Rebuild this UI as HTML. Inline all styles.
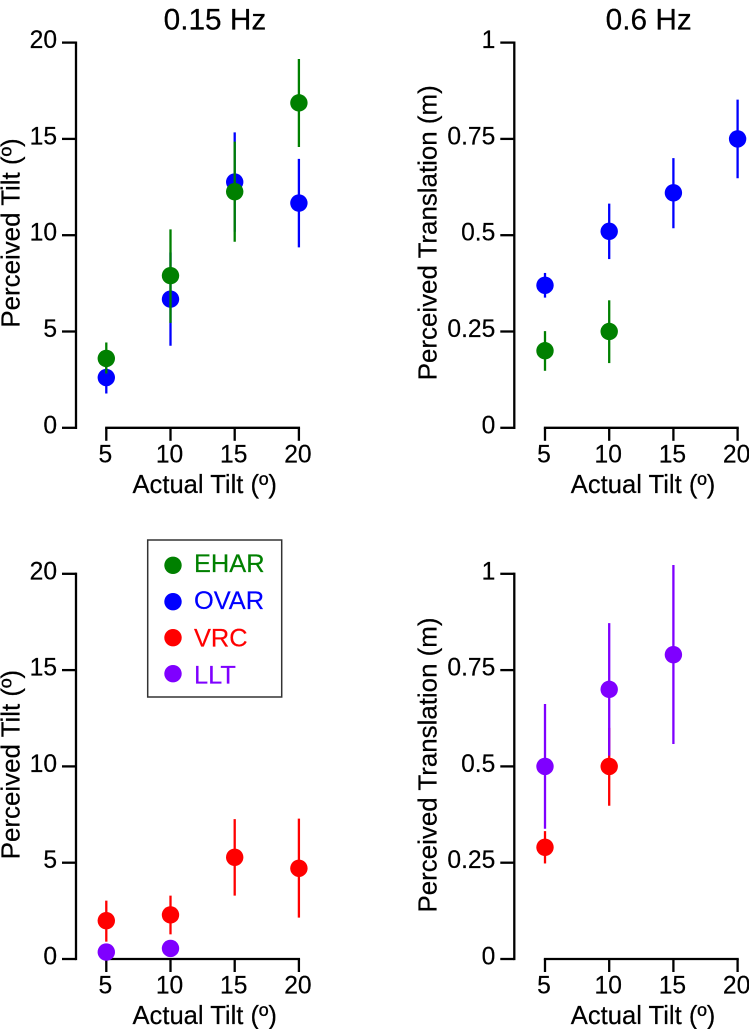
<!DOCTYPE html>
<html lang="en">
<head>
<meta charset="utf-8">
<title>Perceived tilt and translation</title>
<style>
html,body{margin:0;padding:0;background:#fff;width:749px;height:1029px;overflow:hidden}
svg{display:block}
text{font-family:"Liberation Sans",Arial,sans-serif;fill:#000;stroke:#000;stroke-width:.2px}
</style>
</head>
<body>
<svg id="chart" xmlns="http://www.w3.org/2000/svg" width="749" height="1029" viewBox="0 0 749 1029">
  <rect x="0" y="0" width="749" height="1029" fill="#fff"/>
  <text x="215" y="29.5" font-size="29.8" text-anchor="middle">0.15 Hz</text>
  <text x="648.7" y="29.5" font-size="29.8" text-anchor="middle">0.6 Hz</text>
  <g id="panels"></g>
  <g>
    <rect x="147.7" y="540" width="134" height="157" fill="#fff" stroke="#333" stroke-width="1.5"/>
    <circle cx="173" cy="565.3" r="8.7" fill="#008000"/>
    <text x="194" y="572" font-size="25.4" style="fill:#008000;stroke:#008000">EHAR</text>
    <circle cx="173" cy="601.7" r="8.7" fill="#0000ff"/>
    <text x="194" y="609" font-size="25.4" style="fill:#0000ff;stroke:#0000ff">OVAR</text>
    <circle cx="173" cy="637.7" r="8.7" fill="#ff0000"/>
    <text x="194" y="646.3" font-size="25.4" style="fill:#ff0000;stroke:#ff0000">VRC</text>
    <circle cx="173" cy="673.7" r="8.7" fill="#7f00ff"/>
    <text x="194" y="683.7" font-size="25.4" style="fill:#7f00ff;stroke:#7f00ff">LLT</text>
  </g>
</svg>
<script>
// Shared categories and tick labels
const actualTilt = [5, 10, 15, 20];
const tiltTicks = [0, 5, 10, 15, 20];
const translationTicks = [0, 0.25, 0.5, 0.75, 1];
const translationTickLabels = ['0', '0.25', '0.5', '0.75', '1'];

// Panel A: perceived tilt at 0.15 Hz
const ovarTiltValues = [2.61, 6.68, 12.76, 11.67];
const ovarTiltUpper = [3.44, 9.1, 15.34, 13.96];
const ovarTiltLower = [1.78, 4.26, 10.18, 9.37];
const eharTiltValues = [3.6, 7.9, 12.26, 16.87];
const eharTiltUpper = [4.43, 10.3, 14.86, 19.15];
const eharTiltLower = [2.82, 5.45, 9.66, 14.58];

// Panel B: perceived translation at 0.6 Hz
const ovarTransValues = [0.37, 0.51, 0.61, 0.75];
const ovarTransUpper = [0.402, 0.582, 0.70, 0.852];
const ovarTransLower = [0.338, 0.438, 0.518, 0.648];
const eharTransValues = [0.2, 0.25];
const eharTransUpper = [0.251, 0.331];
const eharTransLower = [0.148, 0.168];

// Panel C: perceived tilt, VRC and LLT
const lltTiltValues = [0.36, 0.55];
const lltTiltUpper = [0.36, 0.55];
const lltTiltLower = [0.36, 0.55];
const vrcTiltValues = [1.99, 2.29, 5.28, 4.71];
const vrcTiltUpper = [3.03, 3.29, 7.26, 7.29];
const vrcTiltLower = [0.9, 1.28, 3.29, 2.15];

// Panel D: perceived translation, VRC and LLT
const lltTransValues = [0.5, 0.7, 0.79];
const lltTransUpper = [0.662, 0.872, 1.023];
const lltTransLower = [0.338, 0.528, 0.558];
const vrcTransValues = [0.29, 0.5];
const vrcTransUpper = [0.332, 0.6];
const vrcTransLower = [0.248, 0.398];

const NS = 'http://www.w3.org/2000/svg';
const root = document.getElementById('panels');

function make(parent, tag, attrs, text) {
  const el = document.createElementNS(NS, tag);
  for (const k in attrs) el.setAttribute(k, attrs[k]);
  if (text !== undefined) el.textContent = text;
  parent.appendChild(el);
  return el;
}

function drawPanel(cfg) {
  const g = make(root, 'g', {});
  
  

  const xScale = v => cfg.x5 + (v - 5) * (192.6 / 15);
  const yScale = v => cfg.yBase - (v / cfg.yMax) * 385.2;

  // Y axis
  const yAxis = make(g, 'g', {});
  
  
  const yLine = make(yAxis, 'line', {x1: cfg.axisX, x2: cfg.axisX, y1: yScale(cfg.yMax) - 1.15, y2: yScale(0) + 1.15, stroke: '#000', 'stroke-width': 2.3});
  
  
  cfg.yTicks.forEach((t, i) => {
    const tick = make(yAxis, 'line', {x1: cfg.axisX - 14, x2: cfg.axisX, y1: yScale(t), y2: yScale(t), stroke: '#000', 'stroke-width': 2.3});
    
    
    const label = make(yAxis, 'text', {x: cfg.axisX - 19, y: yScale(t) + 5.5, 'font-size': 24.6, 'text-anchor': 'end'}, cfg.yLabels[i]);
    
    
  });
  const yTitle = make(yAxis, 'text', {transform: 'translate(' + cfg.yTitleX + ',' + cfg.yTitleY + ') rotate(-90)', 'font-size': 25.9, 'text-anchor': 'middle'}, cfg.yTitle);
  
  

  // X axis
  const xAxis = make(g, 'g', {});
  
  
  const xLine = make(xAxis, 'line', {x1: xScale(actualTilt[0]) - 1.15, x2: xScale(actualTilt[actualTilt.length - 1]) + 1.15, y1: yScale(0), y2: yScale(0), stroke: '#000', 'stroke-width': 2.3});
  
  
  actualTilt.forEach(t => {
    const tick = make(xAxis, 'line', {x1: xScale(t), x2: xScale(t), y1: yScale(0), y2: yScale(0) + 13, stroke: '#000', 'stroke-width': 2.3});
    
    
    const label = make(xAxis, 'text', {x: xScale(t) - 1, y: yScale(0) + 34.5, 'font-size': 24.6, 'text-anchor': 'middle'}, String(t));
    
    
  });
  const xTitle = make(xAxis, 'text', {x: cfg.xTitleX, y: yScale(0) + 65, 'font-size': 25.6, 'text-anchor': 'middle'}, 'Actual Tilt (º)');
  
  

  // Series
  cfg.series.forEach(s => {
    const sg = make(g, 'g', {});
    
    
    s.values.forEach((v, i) => {
      const cx = xScale(actualTilt[i]);
      if (s.upper[i] !== s.lower[i]) {
        const bar = make(sg, 'line', {x1: cx, x2: cx, y1: yScale(s.upper[i]), y2: yScale(s.lower[i]), stroke: s.color, 'stroke-width': 2.3});
        
        
      }
      const dot = make(sg, 'circle', {cx: cx, cy: yScale(v), r: 8.7, fill: s.color});
      
      
    });
  });
}

const GREEN = '#008000', BLUE = '#0000ff', RED = '#ff0000', PURPLE = '#7f00ff';
const tiltLabels = tiltTicks.map(String);

drawPanel({
  name: 'panel-tilt-0-15-hz', axisX: 76, x5: 106.3, yBase: 427.8, yMax: 20,
  yTicks: tiltTicks, yLabels: tiltLabels, yTitle: 'Perceived Tilt (º)', yTitleX: 19.5, yTitleY: 233, xTitleX: 204.7,
  series: [
    {key: 'ovar', color: BLUE, values: ovarTiltValues, upper: ovarTiltUpper, lower: ovarTiltLower},
    {key: 'ehar', color: GREEN, values: eharTiltValues, upper: eharTiltUpper, lower: eharTiltLower}
  ]
});
drawPanel({
  name: 'panel-translation-0-6-hz', axisX: 514.3, x5: 545, yBase: 427.8, yMax: 1,
  yTicks: translationTicks, yLabels: translationTickLabels, yTitle: 'Perceived Translation (m)', yTitleX: 436.7, yTitleY: 232.8, xTitleX: 643,
  series: [
    {key: 'ovar', color: BLUE, values: ovarTransValues, upper: ovarTransUpper, lower: ovarTransLower},
    {key: 'ehar', color: GREEN, values: eharTransValues, upper: eharTransUpper, lower: eharTransLower}
  ]
});
drawPanel({
  name: 'panel-tilt-vrc-llt', axisX: 76, x5: 106.3, yBase: 959, yMax: 20,
  yTicks: tiltTicks, yLabels: tiltLabels, yTitle: 'Perceived Tilt (º)', yTitleX: 19.5, yTitleY: 764.6, xTitleX: 204.7,
  series: [
    {key: 'llt', color: PURPLE, values: lltTiltValues, upper: lltTiltUpper, lower: lltTiltLower},
    {key: 'vrc', color: RED, values: vrcTiltValues, upper: vrcTiltUpper, lower: vrcTiltLower}
  ]
});
drawPanel({
  name: 'panel-translation-vrc-llt', axisX: 514.3, x5: 545, yBase: 959, yMax: 1,
  yTicks: translationTicks, yLabels: translationTickLabels, yTitle: 'Perceived Translation (m)', yTitleX: 436.7, yTitleY: 765, xTitleX: 643,
  series: [
    {key: 'vrc', color: RED, values: vrcTransValues, upper: vrcTransUpper, lower: vrcTransLower},
    {key: 'llt', color: PURPLE, values: lltTransValues, upper: lltTransUpper, lower: lltTransLower}
  ]
});
</script>
</body>
</html>
